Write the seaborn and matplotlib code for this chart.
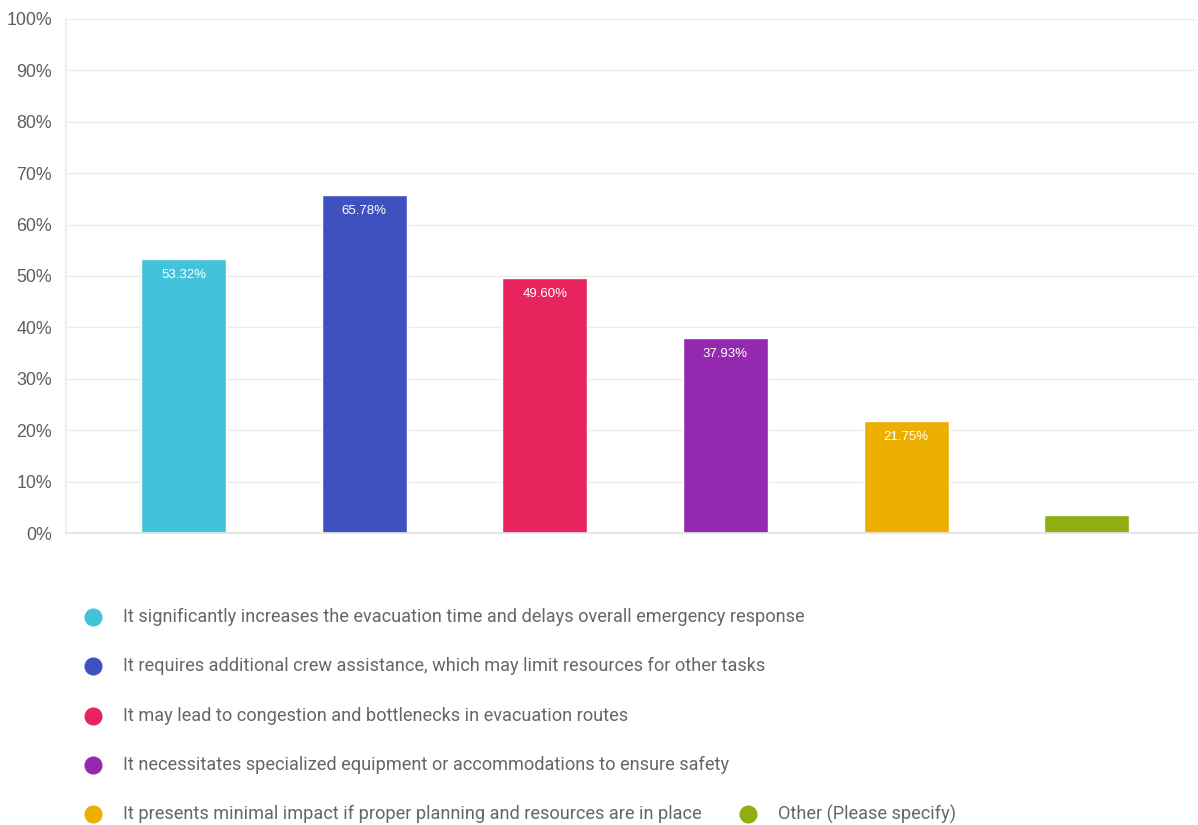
import matplotlib
matplotlib.use("Agg")
import matplotlib.pyplot as plt
import seaborn as sns
import pandas as pd
from matplotlib.lines import Line2D

categories = [
    "It significantly increases the evacuation time and delays overall emergency response",
    "It requires additional crew assistance, which may limit resources for other tasks",
    "It may lead to congestion and bottlenecks in evacuation routes",
    "It necessitates specialized equipment or accommodations to ensure safety",
    "It presents minimal impact if proper planning and resources are in place",
    "Other (Please specify)",
]
values = [53.32, 65.78, 49.60, 37.93, 21.75, 3.55]
labels = ["53.32%", "65.78%", "49.60%", "37.93%", "21.75%", ""]
colors = ["#42c3db", "#3f51bf", "#e8245f", "#9429b0", "#edb000", "#8fae10"]
y_ticks = [0, 10, 20, 30, 40, 50, 60, 70, 80, 90, 100]

sns.set_theme(style="white")
plt.rcParams["font.family"] = ["Roboto", "DejaVu Sans"]

df = pd.DataFrame({"answer": categories, "pct": values})

fig = plt.figure(figsize=(11.98, 8.25), dpi=100)
ax = fig.add_axes([66 / 1198, (825 - 533) / 825, (1197 - 66) / 1198, (533 - 19) / 825])

sns.barplot(data=df, x="answer", y="pct", hue="answer", palette=colors,
            order=categories, hue_order=categories, width=0.47,
            dodge=False, legend=False, ax=ax, saturation=1)

ax.set_xlim(-0.65, 5.61)
ax.set_ylim(0, 100)
ax.set_yticks(y_ticks)
ax.set_yticklabels([f"{t}%" for t in y_ticks], fontsize=12.8, color="#5f5f5f",
                   family=["Liberation Sans", "DejaVu Sans"])
ax.set_xticks(range(len(categories)))
ax.set_xticklabels([])
ax.tick_params(axis="x", length=4, color="#e0e0e0", width=1)
ax.tick_params(axis="y", length=0, pad=10)
ax.set_xlabel("")
ax.set_ylabel("")
ax.yaxis.grid(True, color="#ececec", linewidth=1)
ax.set_axisbelow(True)
for s in ["top", "right"]:
    ax.spines[s].set_visible(False)
ax.spines["left"].set_color("#ececec")
ax.spines["bottom"].set_color("#e3e3e3")

for patch, lab in zip(ax.patches, labels):
    if lab:
        x = patch.get_x() + patch.get_width() / 2
        y = patch.get_height()
        ax.annotate(lab, (x, y), xytext=(0, -16), textcoords="offset points",
                    ha="center", va="bottom", color="white", fontsize=9.5,
                    family=["Liberation Sans", "DejaVu Sans"])

# legend laid out as rows beneath the plot
W, H = 1198, 825
rows = [(93, 617, 0), (93, 666, 1), (93, 716, 2), (93, 765, 3), (93, 814, 4), (748, 814, 5)]
for px, py, i in rows:
    fig.add_artist(Line2D([px / W], [1 - py / H], marker="o", markersize=12,
                          markerfacecolor=colors[i], markeredgecolor=colors[i],
                          linestyle="none", transform=fig.transFigure))
    fig.text((px + 30) / W, 1 - py / H, categories[i], fontsize=13.1,
             color="#666666", va="center", ha="left")

fig.savefig("out.png", dpi=100, facecolor="white")
